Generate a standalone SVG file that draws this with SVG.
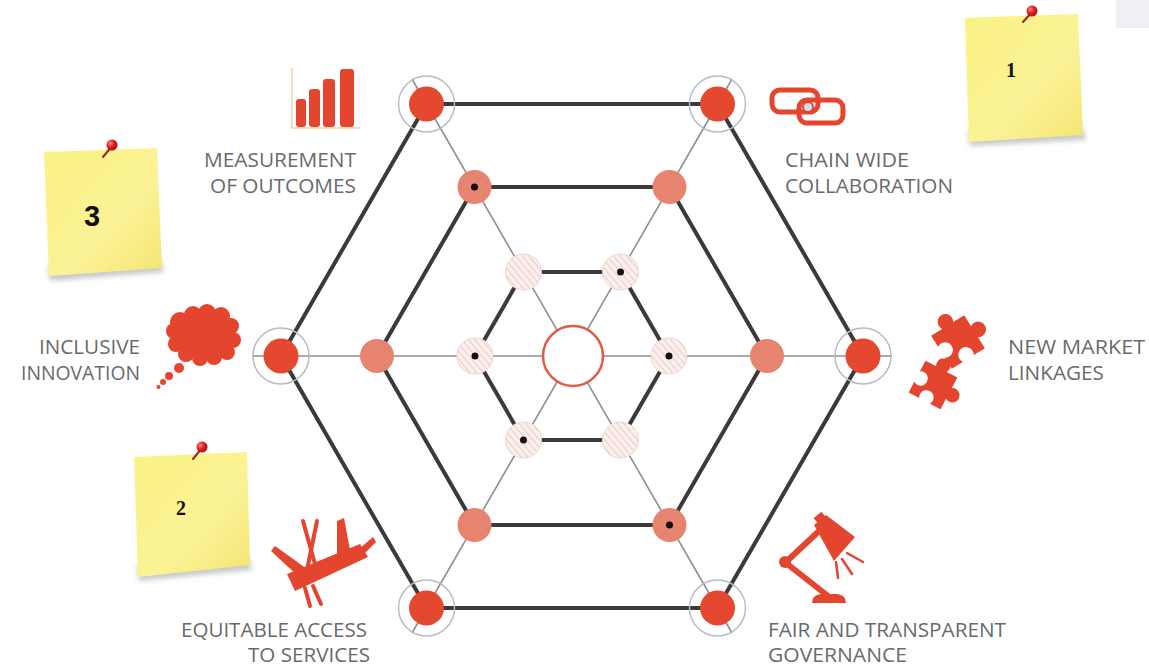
<svg xmlns="http://www.w3.org/2000/svg" width="1149" height="666" viewBox="0 0 1149 666">
  <style>
    .lbl { font-family: "Open Sans", "Liberation Sans", sans-serif; font-size: 19.5px; fill: #6a6a6a; }
    .spoke { stroke: #8f8f8f; stroke-width: 1.6; fill: none; }
    .hex { stroke: #3a3a3a; stroke-width: 4; fill: none; stroke-linejoin: round; }
    .ring { fill: none; stroke: #b4bcc6; stroke-width: 1.5; }
    .core { fill: #e4482f; }
    .mid { fill: #e6846f; }
    .inner { fill: url(#hatch); stroke: #f0d3cc; stroke-width: 1; }
    .dot { fill: #111; }
    .ico { fill: #e4452e; }
    .note { fill: url(#paper); }
    .pinstem { stroke: #a02020; stroke-width: 2; stroke-linecap: round; }
  </style>
  <defs>
    <pattern id="hatch" width="5" height="5" patternUnits="userSpaceOnUse" patternTransform="rotate(-40)">
      <rect width="5" height="5" fill="#faf0ee"/>
      <line x1="0" y1="0" x2="0" y2="5" stroke="#ecb9ae" stroke-width="1.4"/>
    </pattern>
    <linearGradient id="paper" x1="0" y1="0" x2="1" y2="1">
      <stop offset="0" stop-color="#fbf285"/>
      <stop offset="0.6" stop-color="#fbf296"/>
      <stop offset="1" stop-color="#f3e572"/>
    </linearGradient>
    <filter id="soft" x="-20%" y="-20%" width="140%" height="140%">
      <feGaussianBlur stdDeviation="2.5"/>
    </filter>
    <radialGradient id="pinball" cx="0.35" cy="0.35" r="0.7">
      <stop offset="0" stop-color="#ff8a8a"/>
      <stop offset="0.5" stop-color="#e41c1c"/>
      <stop offset="1" stop-color="#b00e0e"/>
    </radialGradient>
    <path id="jig" d="M-15,-15 H-5 a6,6 0 1 1 10,0 H15 V-5 a6,6 0 1 1 0,10 V15 H5 a6,6 0 1 0 -10,0 H-15 V5 a6,6 0 1 0 0,-10 Z"/>
  </defs>

  <rect width="1149" height="666" fill="#ffffff"/>
  <rect x="1116" y="0" width="33" height="28" fill="#f2eef5"/>

  <!-- connectors: spokes and hexagon rings -->
  <g id="connectors">
    <line class="spoke" x1="252" y1="356" x2="892" y2="356"/>
    <line class="spoke" x1="412" y1="79" x2="732" y2="633"/>
    <line class="spoke" x1="732" y1="79" x2="412" y2="633"/>
    <polygon class="hex" points="863,356 717.5,104 426.5,104 281,356 426.5,608 717.5,608"/>
    <polygon class="hex" points="767,356 669.5,187 474.5,187 377,356 474.5,525 669.5,525"/>
    <polygon class="hex" points="669,356 620.5,272 523.5,272 475,356 523.5,440 620.5,440"/>
  </g>

  <!-- outer nodes -->
  <g id="node-outer-tl"><circle class="ring" cx="426.5" cy="104" r="28"/><circle class="core" cx="426.5" cy="104" r="17.5"/></g>
  <g id="node-outer-tr"><circle class="ring" cx="717.5" cy="104" r="28"/><circle class="core" cx="717.5" cy="104" r="17.5"/></g>
  <g id="node-outer-r"><circle class="ring" cx="863" cy="356" r="28"/><circle class="core" cx="863" cy="356" r="17.5"/></g>
  <g id="node-outer-br"><circle class="ring" cx="717.5" cy="608" r="28"/><circle class="core" cx="717.5" cy="608" r="17.5"/></g>
  <g id="node-outer-bl"><circle class="ring" cx="426.5" cy="608" r="28"/><circle class="core" cx="426.5" cy="608" r="17.5"/></g>
  <g id="node-outer-l"><circle class="ring" cx="281" cy="356" r="28"/><circle class="core" cx="281" cy="356" r="17.5"/></g>

  <!-- middle nodes -->
  <g id="node-mid-tl"><circle class="mid" cx="474.5" cy="187" r="17"/><circle class="dot" cx="474.5" cy="187" r="3.5"/></g>
  <g id="node-mid-tr"><circle class="mid" cx="669.5" cy="187" r="17"/></g>
  <g id="node-mid-r"><circle class="mid" cx="767" cy="356" r="17"/></g>
  <g id="node-mid-br"><circle class="mid" cx="669.5" cy="525" r="17"/><circle class="dot" cx="669.5" cy="525" r="3.5"/></g>
  <g id="node-mid-bl"><circle class="mid" cx="474.5" cy="525" r="17"/></g>
  <g id="node-mid-l"><circle class="mid" cx="377" cy="356" r="17"/></g>

  <!-- inner nodes -->
  <g id="node-in-tl"><circle class="inner" cx="523.5" cy="272" r="18"/></g>
  <g id="node-in-tr"><circle class="inner" cx="620.5" cy="272" r="18"/><circle class="dot" cx="620.5" cy="272" r="3.5"/></g>
  <g id="node-in-r"><circle class="inner" cx="669" cy="356" r="18"/><circle class="dot" cx="669" cy="356" r="3.5"/></g>
  <g id="node-in-br"><circle class="inner" cx="620.5" cy="440" r="18"/></g>
  <g id="node-in-bl"><circle class="inner" cx="523.5" cy="440" r="18"/><circle class="dot" cx="523.5" cy="440" r="3.5"/></g>
  <g id="node-in-l"><circle class="inner" cx="475" cy="356" r="18"/><circle class="dot" cx="475" cy="356" r="3.5"/></g>

  <!-- hub -->
  <g id="node-hub"><circle cx="573" cy="356" r="30" fill="#ffffff" stroke="#e25a48" stroke-width="2.5"/></g>

  <!-- measurement of outcomes -->
  <g id="pillar-measurement">
    <path d="M292,68 V128 H360" fill="none" stroke="#f6cfa8" stroke-width="1.5"/>
    <rect class="ico" x="296" y="99" width="10" height="28" rx="3"/>
    <rect class="ico" x="309" y="89" width="11" height="38" rx="3"/>
    <rect class="ico" x="323" y="79" width="12" height="48" rx="3"/>
    <rect class="ico" x="340" y="69" width="14" height="58" rx="3"/>
    <text class="lbl" x="356" y="167" text-anchor="end" textLength="152" lengthAdjust="spacingAndGlyphs">MEASUREMENT</text>
    <text class="lbl" x="356" y="193" text-anchor="end" textLength="146" lengthAdjust="spacingAndGlyphs">OF OUTCOMES</text>
  </g>

  <!-- chain wide collaboration -->
  <g id="pillar-chain">
    <rect x="772" y="90" width="46" height="22" rx="8" fill="none" stroke="#e4452e" stroke-width="5"/>
    <rect x="799" y="100" width="44" height="23" rx="8" fill="none" stroke="#e4452e" stroke-width="5"/>
    <circle cx="808" cy="107" r="5" fill="#cfe0ea" stroke="#e4452e" stroke-width="2"/>
    <text class="lbl" x="785" y="167" textLength="124" lengthAdjust="spacingAndGlyphs">CHAIN WIDE</text>
    <text class="lbl" x="785" y="193" textLength="168" lengthAdjust="spacingAndGlyphs">COLLABORATION</text>
  </g>

  <!-- inclusive innovation -->
  <g id="pillar-innovation">
    <g class="ico">
      <ellipse cx="204" cy="337" rx="26" ry="19"/>
      <circle cx="180" cy="322" r="10"/><circle cx="193" cy="315" r="9"/><circle cx="207" cy="313" r="9"/>
      <circle cx="221" cy="316" r="9"/><circle cx="231" cy="326" r="8"/><circle cx="233" cy="340" r="8"/>
      <circle cx="227" cy="352" r="8"/><circle cx="214" cy="357" r="8"/><circle cx="200" cy="358" r="8"/>
      <circle cx="186" cy="354" r="8"/><circle cx="176" cy="344" r="8"/><circle cx="174" cy="331" r="8"/>
      <circle cx="179" cy="368" r="5"/><circle cx="169" cy="376" r="4"/><circle cx="163" cy="382" r="3"/><circle cx="158.5" cy="387" r="2"/>
    </g>
    <text class="lbl" x="140" y="354" text-anchor="end" textLength="101" lengthAdjust="spacingAndGlyphs">INCLUSIVE</text>
    <text class="lbl" x="140" y="380" text-anchor="end" textLength="119" lengthAdjust="spacingAndGlyphs">INNOVATION</text>
  </g>

  <!-- new market linkages -->
  <g id="pillar-market">
    <use href="#jig" class="ico" transform="translate(958,342) rotate(-32) scale(1.3)"/>
    <use href="#jig" class="ico" transform="translate(933,385) rotate(28) scale(1.2)"/>
    <text class="lbl" x="1008" y="354" textLength="137" lengthAdjust="spacingAndGlyphs">NEW MARKET</text>
    <text class="lbl" x="1008" y="380" textLength="96" lengthAdjust="spacingAndGlyphs">LINKAGES</text>
  </g>

  <!-- equitable access to services -->
  <g id="pillar-access">
    <g class="ico">
      <polygon points="287,574 360,544 368,557 295,591"/>
      <polygon points="298,576 271,551 275,546 307,569"/>
      <polygon points="337,554 337,521 344,518 350,550"/>
      <polygon points="359,549 373,537 376,542 365,553"/>
    </g>
    <g stroke="#e4452e" stroke-width="4" stroke-linecap="round">
      <line x1="303" y1="521" x2="318" y2="575"/>
      <line x1="317" y1="521" x2="306" y2="575"/>
      <line x1="305" y1="588" x2="310" y2="606"/>
      <line x1="313" y1="586" x2="321" y2="604"/>
    </g>
    <text class="lbl" x="367" y="637" text-anchor="end" textLength="186" lengthAdjust="spacingAndGlyphs">EQUITABLE ACCESS</text>
    <text class="lbl" x="370" y="662" text-anchor="end" textLength="122" lengthAdjust="spacingAndGlyphs">TO SERVICES</text>
  </g>

  <!-- fair and transparent governance -->
  <g id="pillar-governance">
    <path class="ico" d="M812,603 H846 Q846,595 837,594 H821 Q812,595 812,603 Z"/>
    <g stroke="#e4452e" stroke-width="6" stroke-linecap="round">
      <line x1="828" y1="596" x2="786" y2="563"/>
      <line x1="786" y1="562" x2="818" y2="532"/>
    </g>
    <circle class="ico" cx="785" cy="562" r="6"/>
    <path class="ico" d="M814,525 L826,515 L855,537 L834,561 Z"/>
    <rect class="ico" x="815" y="514" width="10" height="8" transform="rotate(-40 820 518)"/>
    <g stroke="#e4452e" stroke-width="2.5" stroke-linecap="round">
      <line x1="847" y1="553" x2="863" y2="562"/>
      <line x1="842" y1="559" x2="852" y2="574"/>
      <line x1="836" y1="562" x2="838" y2="578"/>
    </g>
    <text class="lbl" x="768" y="637" textLength="238" lengthAdjust="spacingAndGlyphs">FAIR AND TRANSPARENT</text>
    <text class="lbl" x="768" y="662" textLength="139" lengthAdjust="spacingAndGlyphs">GOVERNANCE</text>
  </g>

  <!-- sticky notes -->
  <g id="note-1">
    <polygon points="968,130 1082,126 1086,140 970,146" fill="#888" opacity="0.45" filter="url(#soft)"/>
    <polygon class="note" points="965,18 1078,14 1083,135 969,142"/>
    <line class="pinstem" x1="1032" y1="12" x2="1023" y2="22"/>
    <circle cx="1032" cy="11" r="5.5" fill="url(#pinball)"/>
    <text x="1006" y="77" font-family="Liberation Serif, serif" font-weight="bold" font-size="20" fill="#111">1</text>
  </g>
  <g id="note-3">
    <polygon points="48,266 160,258 164,272 50,281" fill="#888" opacity="0.45" filter="url(#soft)"/>
    <polygon class="note" points="44,152 157,148 162,268 49,276"/>
    <line class="pinstem" x1="112" y1="146" x2="103" y2="157"/>
    <circle cx="112" cy="145" r="5.5" fill="url(#pinball)"/>
    <text x="84" y="226" font-family="Liberation Sans, Arial, sans-serif" font-weight="bold" font-size="29" fill="#111">3</text>
  </g>
  <g id="note-2">
    <polygon points="137,566 248,556 252,570 139,581" fill="#888" opacity="0.45" filter="url(#soft)"/>
    <polygon class="note" points="134,457 247,452 250,565 138,577"/>
    <line class="pinstem" x1="202" y1="448" x2="193" y2="459"/>
    <circle cx="202" cy="447" r="5.5" fill="url(#pinball)"/>
    <text x="176" y="515" font-family="Liberation Serif, serif" font-weight="bold" font-size="20" fill="#111">2</text>
  </g>
</svg>
